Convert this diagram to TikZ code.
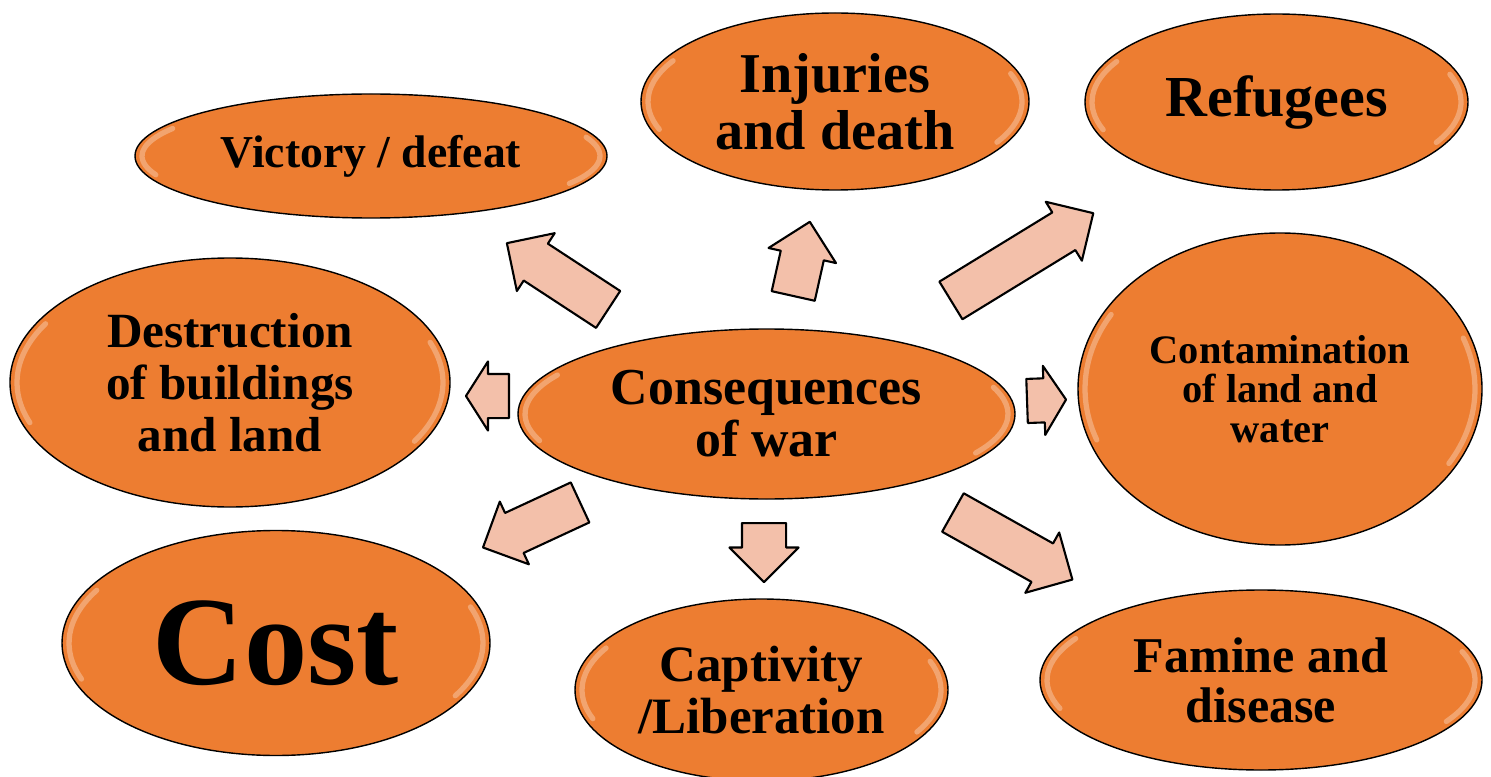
\documentclass[tikz,border=0pt]{standalone}
\usepackage{fontspec}
\setmainfont{Liberation Serif}
\usetikzlibrary{shapes.geometric,shapes.arrows,calc}

\definecolor{warorange}{RGB}{237,125,49}
\definecolor{arrowpink}{RGB}{243,192,170}

\tikzset{
  gloss/.style={path picture={
    \draw[white, opacity=.3, line width=3pt, line cap=round]
      let \p1=(path picture bounding box.south west),
          \p2=(path picture bounding box.north east),
          \n1={(\x2-\x1)/2-4pt}, \n2={(\y2-\y1)/2-4pt}
      in ($(\p1)!.5!(\p2)$) ++({\n1*cos(150)*1pt},{\n2*sin(150)*1pt})
           arc[start angle=150, end angle=200, x radius={\n1*1pt}, y radius={\n2*1pt}]
         ($(\p1)!.5!(\p2)$) ++({\n1*cos(-30)*1pt},{\n2*sin(-30)*1pt})
           arc[start angle=-30, end angle=20, x radius={\n1*1pt}, y radius={\n2*1pt}];
  }},
  bubble/.style={ellipse, draw=black, line width=.8pt, fill=warorange,
    inner sep=0pt, align=center, gloss},
  blockarrow/.style={single arrow, draw=black, line width=1.2pt, fill=arrowpink,
    inner xsep=0pt, inner ysep=.42cm, minimum width=1.34cm, anchor=tail,
    single arrow head extend=.25cm, single arrow tip angle=90, line join=round},
}

\begin{document}
\begin{tikzpicture}
\useasboundingbox (0,0) rectangle (29.82,15.52);

% the outcomes
\node (vic) at (7.42,12.40) [bubble, minimum width=9.44cm, minimum height=2.48cm,
  font=\bfseries\fontsize{26}{28}\selectfont] {Victory / defeat};
\node (inj) at (16.70,13.49) [bubble, minimum width=7.76cm, minimum height=3.54cm,
  font=\bfseries\fontsize{32}{32.3}\selectfont] {Injuries\\and death};
\node (ref) at (25.53,13.48) [bubble, minimum width=7.66cm, minimum height=3.52cm,
  font=\bfseries\fontsize{33}{33}\selectfont] {Refugees};
\node (des) at (4.60,7.87) [bubble, minimum width=8.80cm, minimum height=4.98cm,
  font=\bfseries\fontsize{28}{29.5}\selectfont] {Destruction\\of buildings\\and land};
\node (con) at (25.60,7.74) [bubble, minimum width=8.08cm, minimum height=6.24cm,
  font=\bfseries\fontsize{23}{22.6}\selectfont] {Contamination\\of land and\\water};
\node (cost) at (5.52,2.66) [bubble, minimum width=8.56cm, minimum height=4.50cm,
  font=\bfseries\fontsize{72}{75}\selectfont] {Cost};
\node (cap) at (15.23,1.72) [bubble, minimum width=7.46cm, minimum height=3.64cm,
  font=\bfseries\fontsize{29}{29.5}\selectfont] {Captivity\\/Liberation};
\node (fam) at (25.22,1.92) [bubble, minimum width=8.84cm, minimum height=3.60cm,
  font=\bfseries\fontsize{28.5}{28.5}\selectfont] {Famine and\\disease};

% centre
\node (cw) at (15.33,7.24) [bubble, minimum width=9.94cm, minimum height=3.40cm,
  font=\bfseries\fontsize{29.5}{29.5}\selectfont] {Consequences\\of war};

% block arrows pointing outwards, placed by their tails
\node (tovic) at (12.18,9.32) [blockarrow, minimum height=2.42cm, rotate=146.8] {};
\node (toinj) at (15.86,9.58) [blockarrow, minimum height=1.52cm, rotate=77.4] {};
\node (toref) at (19.00,9.50) [blockarrow, minimum height=3.34cm, rotate=31.5] {};
\node (todes) at (10.20,7.60) [blockarrow, minimum height=.86cm, rotate=180,
  single arrow tip angle=115] {};
\node (tocon) at (20.52,7.50) [blockarrow, minimum height=.78cm, rotate=2,
  single arrow tip angle=115] {};
\node (tocost) at (11.62,5.48) [blockarrow, minimum height=2.14cm, rotate=204.9] {};
\node (tocap) at (15.28,5.08) [blockarrow, minimum height=1.18cm, rotate=270] {};
\node (tofam) at (19.04,5.28) [blockarrow, minimum height=2.74cm, rotate=-29.3] {};
\end{tikzpicture}
\end{document}
